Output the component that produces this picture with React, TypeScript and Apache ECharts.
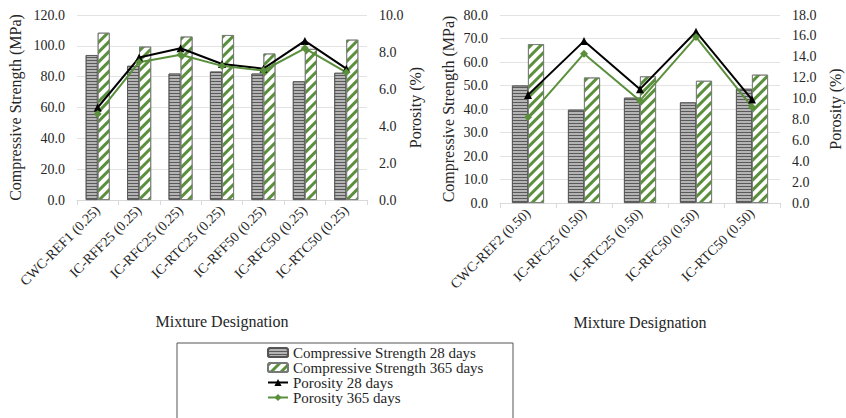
import React, { useEffect, useRef } from "react";
import * as echarts from "echarts";

const catsLeft = ["CWC-REF1 (0.25)", "IC-RFF25 (0.25)", "IC-RFC25 (0.25)", "IC-RTC25 (0.25)", "IC-RFF50 (0.25)", "IC-RFC50 (0.25)", "IC-RTC50 (0.25)"];
const cs28Left = [94, 87, 82, 83.3, 82, 77, 82.5];
const cs365Left = [108.5, 99.5, 106, 107, 95, 98, 104];
const por28Left = [5.0, 7.7, 8.2, 7.35, 7.1, 8.6, 7.1];
const por365Left = [4.65, 7.45, 7.85, 7.25, 7.0, 8.2, 6.9];

const catsRight = ["CWC-REF2 (0.50)", "IC-RFC25 (0.50)", "IC-RTC25 (0.50)", "IC-RFC50 (0.50)", "IC-RTC50 (0.50)"];
const cs28Right = [50, 39.7, 44.8, 42.8, 48.6];
const cs365Right = [67.6, 53.4, 53.9, 52, 54.6];
const por28Right = [10.35, 15.5, 10.9, 16.4, 9.9];
const por365Right = [8.2, 14.3, 9.8, 15.9, 9.2];

const NAME_CS28 = "Compressive Strength 28 days";
const NAME_CS365 = "Compressive Strength 365 days";
const NAME_P28 = "Porosity 28 days";
const NAME_P365 = "Porosity 365 days";

const FONT = "Liberation Serif";
const GREEN = "#5a8f3c";
const TXT = "#262626";

export default function App() {
  const ref = useRef<HTMLDivElement>(null);
  useEffect(() => {
    if (!ref.current) return;
    const chart = echarts.init(ref.current, null, { renderer: "svg" });
    const greyStyle = {
      color: "#b4b4b4",
      borderColor: "#555",
      borderWidth: 0.8,
      decal: {
        symbol: "rect",
        symbolSize: 1,
        dashArrayX: [1, 0],
        dashArrayY: [1, 1.2],
        rotation: 0,
        color: "rgba(60,60,60,0.75)",
      },
    };
    const hatchStyle = {
      color: "#ffffff",
      borderColor: "#777",
      borderWidth: 0.8,
      decal: {
        symbol: "rect",
        symbolSize: 1,
        dashArrayX: [1, 0],
        dashArrayY: [2.2, 3.6],
        rotation: -Math.PI / 4,
        color: GREEN,
      },
    };
    const tickLabel = { fontFamily: FONT, fontSize: 14, color: TXT };
    const axisName = { fontFamily: FONT, fontSize: 16, color: TXT };
    const fmt1 = (v: number) => v.toFixed(1);
    const xAxisCommon = (cats: string[], gridIndex: number, gap: number) => ({
      type: "category",
      gridIndex,
      data: cats,
      name: "Mixture Designation",
      nameLocation: "middle",
      nameGap: gap,
      nameTextStyle: axisName,
      axisLine: { lineStyle: { color: "#d9d9d9" } },
      axisTick: { show: true, length: 5, lineStyle: { color: "#d9d9d9" } },
      axisLabel: { ...tickLabel, rotate: 45, interval: 0, margin: 8 },
    });
    const yAxisCommon = (gridIndex: number, pos: string, max: number, interval: number, name: string, gap: number, split: boolean) => ({
      type: "value",
      gridIndex,
      position: pos,
      min: 0,
      max,
      interval,
      name,
      nameLocation: "middle",
      nameGap: gap,
      nameTextStyle: axisName,
      axisLine: { show: false },
      axisTick: { show: false },
      axisLabel: { ...tickLabel, formatter: fmt1, margin: 12 },
      splitLine: { show: split, lineStyle: { color: "#e3e3e3" } },
    });
    const lineSeries = (name: string, data: number[], xi: number, yi: number, color: string, symbol: string) => ({
      type: "line",
      name,
      data,
      xAxisIndex: xi,
      yAxisIndex: yi,
      symbol,
      symbolSize: 8,
      lineStyle: { color, width: 2 },
      itemStyle: { color },
      z: 5,
    });
    const barSeries = (name: string, data: number[], xi: number, yi: number, width: number, style: any) => ({
      type: "bar",
      name,
      data,
      xAxisIndex: xi,
      yAxisIndex: yi,
      barWidth: width,
      barGap: "0%",
      itemStyle: style,
    });
    chart.setOption({
      animation: false,
      aria: { enabled: false },
      textStyle: { fontFamily: FONT },
      grid: [
        { left: 77, right: 846 - 367, top: 15, bottom: 418 - 200 },
        { left: 500, right: 846 - 780, top: 15, bottom: 418 - 203 },
      ],
      xAxis: [xAxisCommon(catsLeft, 0, 113), xAxisCommon(catsRight, 1, 111)],
      yAxis: [
        yAxisCommon(0, "left", 120, 20, "Compressive Strength (MPa)", 54, true),
        yAxisCommon(0, "right", 10, 2, "Porosity (%)", 38, false),
        yAxisCommon(1, "left", 80, 10, "Compressive Strength (MPa)", 44, true),
        yAxisCommon(1, "right", 18, 2, "Porosity (%)", 47, false),
      ],
      legend: {
        orient: "vertical",
        left: 267,
        top: 345,
        itemWidth: 20,
        itemHeight: 9,
        itemGap: 0,
        padding: 0,
        textStyle: { fontFamily: FONT, fontSize: 15, color: TXT, lineHeight: 14 },
        data: [NAME_CS28, NAME_CS365, NAME_P28, NAME_P365],
      },
      graphic: [
        {
          type: "rect",
          shape: { x: 177, y: 343, width: 336, height: 90 },
          style: { fill: "none", stroke: "#555", lineWidth: 1 },
          silent: true,
        },
      ],
      series: [
        barSeries(NAME_CS28, cs28Left, 0, 0, 12, greyStyle),
        barSeries(NAME_CS365, cs365Left, 0, 0, 12, hatchStyle),
        lineSeries(NAME_P28, por28Left, 0, 1, "#000000", "triangle"),
        lineSeries(NAME_P365, por365Left, 0, 1, GREEN, "diamond"),
        barSeries(NAME_CS28, cs28Right, 1, 2, 16, greyStyle),
        barSeries(NAME_CS365, cs365Right, 1, 2, 16, hatchStyle),
        lineSeries(NAME_P28, por28Right, 1, 3, "#000000", "triangle"),
        lineSeries(NAME_P365, por365Right, 1, 3, GREEN, "diamond"),
      ],
    });
    return () => chart.dispose();
  }, []);
  return <div ref={ref} style={{ width: 846, height: 418, position: "absolute", left: 0, top: 0 }} />;
}
